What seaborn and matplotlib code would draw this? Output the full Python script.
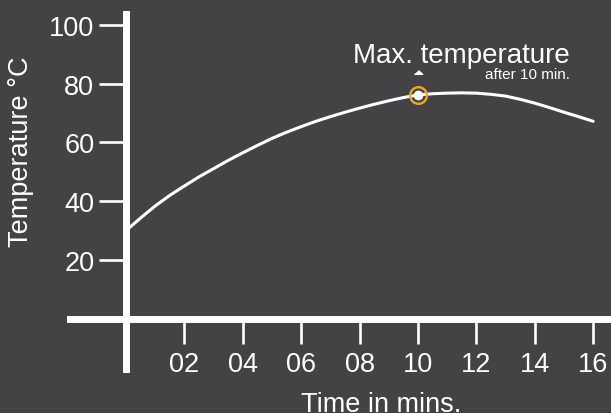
import matplotlib
matplotlib.use("Agg")
import matplotlib.pyplot as plt
import seaborn as sns
import pandas as pd

# temperature curve, every half minute
minutes = [0, 0.5, 1, 1.5, 2, 2.5, 3, 3.5, 4, 4.5, 5, 5.5, 6, 6.5, 7, 7.5, 8,
           8.5, 9, 9.5, 10, 10.5, 11, 11.5, 12, 12.5, 13, 13.5, 14, 14.5, 15,
           15.5, 16]
temps = [30.0, 34.3, 38.4, 42.0, 45.2, 48.3, 51.1, 53.9, 56.5, 59.0, 61.4,
         63.5, 65.4, 67.2, 68.8, 70.3, 71.7, 73.0, 74.2, 75.3, 76.2, 76.6,
         76.8, 76.9, 76.8, 76.4, 75.8, 74.7, 73.4, 71.9, 70.3, 68.8, 67.2]

x_ticks = [2, 4, 6, 8, 10, 12, 14, 16]
x_tick_labels = ["02", "04", "06", "08", "10", "12", "14", "16"]
y_ticks = [20, 40, 60, 80, 100]

max_time = 10
max_temp = 76.2

bg = "#434345"
fg = "white"
orange = "#f3a51f"

sns.set_theme(style="dark", rc={"axes.facecolor": bg, "figure.facecolor": bg})
plt.rcParams["font.family"] = ["Liberation Sans", "DejaVu Sans"]

df = pd.DataFrame({"Time": minutes, "Temperature": temps})

fig = plt.figure(figsize=(6.11, 4.14), dpi=100)
ax = fig.add_axes([0, 0, 1, 1])
ax.set_facecolor(bg)

sns.lineplot(data=df, x="Time", y="Temperature", ax=ax, color=fg, lw=2.2)

# highlighted point
ax.plot([max_time], [max_temp], "o", ms=12, mfc="none", mec=orange, mew=1.7, zorder=5)
ax.plot([max_time], [max_temp], "o", ms=7, mfc=fg, mec="none", zorder=6)
ax.plot([max_time], [84.0], marker=[(-1, -0.45), (1, -0.45), (0, 0.45)], ms=6,
        color=fg, ls="none", zorder=6)
ax.annotate("Max. temperature", (max_time, max_temp), xytext=(109.5, 23.8),
            textcoords="offset points", ha="right", va="baseline",
            color=fg, fontsize=20)
ax.annotate("after 10 min.", (max_time, max_temp), xytext=(109.5, 12.2),
            textcoords="offset points", ha="right", va="baseline",
            color=fg, fontsize=11)

ax.set_xlim(-4.315, 16.61)
ax.set_ylim(-32.09, 108.85)

for side in ["top", "right"]:
    ax.spines[side].set_visible(False)
ax.spines["left"].set_position(("data", 0))
ax.spines["bottom"].set_position(("data", 0))
ax.spines["left"].set_bounds(-17.1, 103.8)
ax.spines["bottom"].set_bounds(-1.92, 17)
for side in ["left", "bottom"]:
    ax.spines[side].set_color(fg)
    ax.spines[side].set_linewidth(5)

ax.set_xticks(x_ticks, x_tick_labels)
ax.set_yticks(y_ticks)
ax.tick_params(axis="x", direction="out", length=18.2, width=1.9, color=fg,
               labelcolor=fg, labelsize=19.5, pad=5, bottom=True)
ax.tick_params(axis="y", direction="out", length=19.2, width=1.9, color=fg,
               labelcolor=fg, labelsize=19.5, pad=3.6, left=True)
ax.grid(False)

# x label sits on the bottom edge, as in the reference
ax.set_xlabel("Time in mins.", color=fg, fontsize=19.5, va="baseline")
ax.xaxis.set_label_coords(381 / 611, 0.004)
ax.set_ylabel("Temperature °C", color=fg, fontsize=19.5, va="center")
ax.yaxis.set_label_coords(21 / 611, (414 - 152) / 414)

fig.savefig("out.png", dpi=100, facecolor=bg)
